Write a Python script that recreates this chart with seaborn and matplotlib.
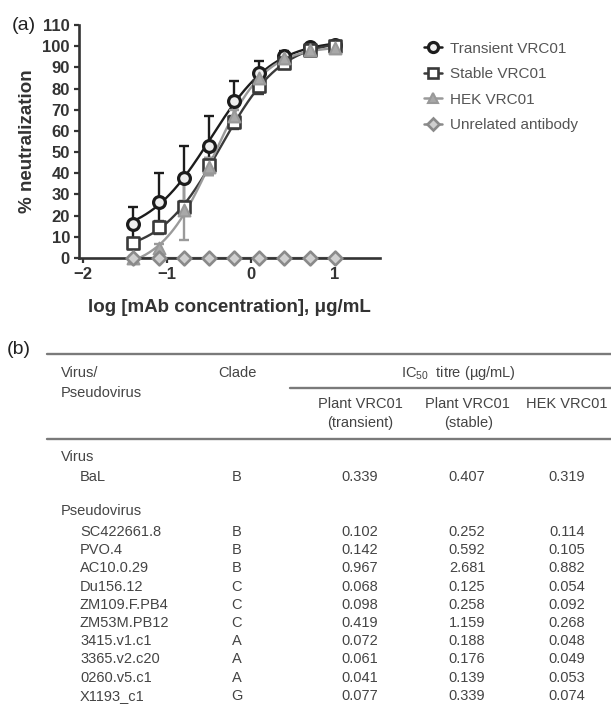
import numpy as np
import pandas as pd
import matplotlib
matplotlib.use("Agg")
import matplotlib.pyplot as plt
from matplotlib.lines import Line2D
import seaborn as sns

# ---- panel (a) data: % neutralization vs log [mAb] ----
log_conc = [-1.4, -1.1, -0.8, -0.5, -0.2, 0.1, 0.4, 0.7, 1.0]
transient_mean = [16, 26.5, 38, 53, 74, 87.5, 95.5, 99.5, 100.5]
transient_err = [8, 13.5, 15, 14, 9.5, 5.5, 2, 1, 1]
stable_mean = [7, 14.5, 24, 44, 64, 81, 92, 98, 100]
stable_err = [2, 3, 3, 3, 3, 3.5, 2, 1, 1]
hek_mean = [0, 4.5, 22.5, 43, 67, 85, 94.5, 98, 99]
hek_err = [1, 2, 14, 4, 3, 3, 2, 1, 1]
unrelated_mean = [0, 0, 0, 0, 0, 0, 0, 0, 0]

series_names = ["Transient VRC01", "Stable VRC01", "HEK VRC01", "Unrelated antibody"]

# ---- panel (b) data: IC50 table ----
virus_names = ["BaL"]
virus_clades = ["B"]
virus_transient = ["0.339"]
virus_stable = ["0.407"]
virus_hek = ["0.319"]

pseudo_names = ["SC422661.8", "PVO.4", "AC10.0.29", "Du156.12", "ZM109.F.PB4",
                "ZM53M.PB12", "3415.v1.c1", "3365.v2.c20", "0260.v5.c1", "X1193_c1"]
pseudo_clades = ["B", "B", "B", "C", "C", "C", "A", "A", "A", "G"]
pseudo_transient = ["0.102", "0.142", "0.967", "0.068", "0.098",
                    "0.419", "0.072", "0.061", "0.041", "0.077"]
pseudo_stable = ["0.252", "0.592", "2.681", "0.125", "0.258",
                 "1.159", "0.188", "0.176", "0.139", "0.339"]
pseudo_hek = ["0.114", "0.105", "0.882", "0.054", "0.092",
              "0.268", "0.048", "0.049", "0.053", "0.074"]


def fit_4pl(x, y):
    # least-squares four-parameter logistic fit by coarse grid search
    x = np.asarray(x, float)
    y = np.asarray(y, float)
    b = np.linspace(-40, 20, 31)[:, None, None, None, None]
    t = np.linspace(96, 106, 11)[None, :, None, None, None]
    c = np.linspace(-1.0, 0.0, 51)[None, None, :, None, None]
    h = np.linspace(0.5, 2.5, 41)[None, None, None, :, None]
    pred = b + (t - b) / (1 + 10 ** ((c - x) * h))
    sse = ((pred - y) ** 2).sum(axis=-1)
    i = np.unravel_index(np.argmin(sse), sse.shape)
    return b.ravel()[i[0]], t.ravel()[i[1]], c.ravel()[i[2]], h.ravel()[i[3]]


def curve(params, xs):
    b, t, c, h = params
    return b + (t - b) / (1 + 10 ** ((c - xs) * h))


sns.set_theme(style="ticks")
plt.rcParams["font.family"] = ["Liberation Sans", "DejaVu Sans"]
plt.rcParams["mathtext.fontset"] = "custom"
plt.rcParams["mathtext.rm"] = "Liberation Sans"

fig = plt.figure(figsize=(6.11, 7.15), dpi=100)
ax = fig.add_axes([79 / 611, 1 - 258 / 715, 301 / 611, 233 / 715])

styles = [
    dict(mean=transient_mean, err=transient_err, color="#1c1c1c", marker="o",
         face="#eeeeee", edge="#1c1c1c", ms=8.5, mew=2.3),
    dict(mean=stable_mean, err=stable_err, color="#3a3a3a", marker="s",
         face="white", edge="#3a3a3a", ms=8, mew=1.9),
    dict(mean=hek_mean, err=hek_err, color="#9a9a9a", marker="^",
         face="#a8a8a8", edge="#999999", ms=8.5, mew=1.5),
    dict(mean=unrelated_mean, err=None, color="#8a8a8a", marker="D",
         face="#cfcfcf", edge="#8a8a8a", ms=7, mew=1.9),
]

xs = np.linspace(min(log_conc), max(log_conc), 200)
handles = []
for name, st in zip(series_names, styles):
    if st["err"] is not None:
        params = fit_4pl(log_conc, st["mean"])
        sns.lineplot(x=xs, y=curve(params, xs), ax=ax, color=st["color"], lw=1.7)
        ax.errorbar(log_conc, st["mean"], yerr=st["err"], fmt="none",
                    ecolor=st["color"], elinewidth=1.7, capsize=3.5, capthick=1.7,
                    clip_on=False, zorder=3)
    else:
        sns.lineplot(x=log_conc, y=st["mean"], ax=ax, color=st["color"], lw=1.6)
    df = pd.DataFrame({"x": log_conc, "y": st["mean"]})
    sns.scatterplot(data=df, x="x", y="y", ax=ax, marker=st["marker"],
                    s=st["ms"] ** 2, color=st["face"], edgecolor=st["edge"],
                    linewidth=st["mew"], clip_on=False, zorder=4)
    handles.append(Line2D([], [], color=st["color"], lw=1.8, marker=st["marker"],
                          markersize=st["ms"] * 0.85, markerfacecolor=st["face"],
                          markeredgecolor=st["edge"], markeredgewidth=st["mew"]))

ax.set_xlim(-2.05, 1.54)
ax.set_ylim(0, 110)
ax.set_xticks([-2, -1, 0, 1])
ax.set_xticklabels(["\u22122", "\u22121", "0", "1"])
ax.set_yticks(range(0, 111, 10))
ax.tick_params(axis="both", labelsize=12, width=1.6, length=3.5, color="#333333",
               labelcolor="#333333", pad=3)
for lab in ax.get_xticklabels() + ax.get_yticklabels():
    lab.set_fontweight("bold")
sns.despine(ax=ax)
for s in ["left", "bottom"]:
    ax.spines[s].set_linewidth(1.9)
    ax.spines[s].set_color("#333333")
ax.set_xlabel("log [mAb concentration], \u03bcg/mL", fontsize=13.5, fontweight="bold",
              color="#333333", labelpad=12)
ax.set_ylabel("% neutralization", fontsize=13.5, fontweight="bold",
              color="#333333", labelpad=5)

leg = fig.legend(handles, series_names, loc="upper left",
                 bbox_to_anchor=(410 / 611, 1 - 28 / 715), frameon=False,
                 fontsize=11, labelspacing=0.75, handlelength=1.2,
                 handletextpad=0.5, labelcolor="#555555")

fig.text(12 / 611, 1 - 25 / 715, "(a)", fontsize=14, va="center", color="#222222")
fig.text(7 / 611, 1 - 349 / 715, "(b)", fontsize=14, va="center", color="#222222")

# ---- panel (b): table drawn in pixel coordinates ----
tb = fig.add_axes([0, 0, 1, 1], zorder=-1)
tb.set_xlim(0, 611)
tb.set_ylim(715, 0)
tb.axis("off")

rule = dict(color="#7a7a7a", lw=1.7)
tb.plot([47, 611], [354, 354], **rule)
tb.plot([290, 611], [388, 388], **rule)
tb.plot([47, 611], [439, 439], **rule)

txt = dict(fontsize=10.5, color="#444444", va="center")
col_clade, col_tr, col_st, col_hek = 237, 360, 467, 567

tb.text(61, 373, "Virus/", ha="left", **txt)
tb.text(61, 393, "Pseudovirus", ha="left", **txt)
tb.text(col_clade, 373, "Clade", ha="center", **txt)
tb.text(458, 373, "IC$_{\\mathrm{50}}$  titre (\u00b5g/mL)", ha="center", **txt)
tb.text(col_tr, 404, "Plant VRC01", ha="center", **txt)
tb.text(col_tr, 423, "(transient)", ha="center", **txt)
tb.text(col_st, 404, "Plant VRC01", ha="center", **txt)
tb.text(col_st + 2, 423, "(stable)", ha="center", **txt)
tb.text(col_hek, 404, "HEK VRC01", ha="center", **txt)


def table_rows(y0, names, clades, tr, st, hk, step=18.2):
    for i, (n, c, a, b, h) in enumerate(zip(names, clades, tr, st, hk)):
        y = y0 + i * step
        tb.text(80, y, n, ha="left", **txt)
        tb.text(col_clade, y, c, ha="center", **txt)
        tb.text(col_tr, y, a, ha="center", **txt)
        tb.text(col_st, y, b, ha="center", **txt)
        tb.text(col_hek, y, h, ha="center", **txt)


tb.text(61, 457, "Virus", ha="left", **txt)
table_rows(477, virus_names, virus_clades, virus_transient, virus_stable, virus_hek)
tb.text(61, 511, "Pseudovirus", ha="left", **txt)
table_rows(532, pseudo_names, pseudo_clades, pseudo_transient, pseudo_stable, pseudo_hek)

fig.savefig("out.png", dpi=100)
plt.close(fig)
